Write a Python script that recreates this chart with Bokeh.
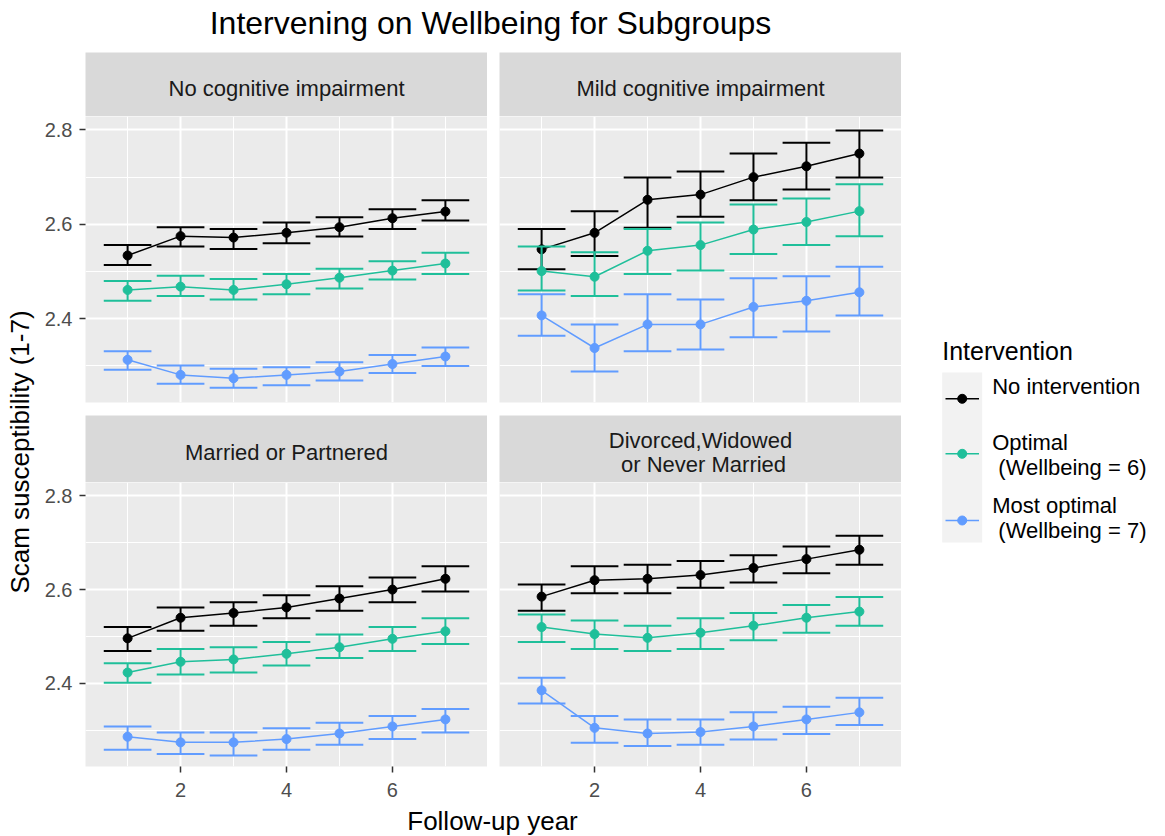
from math import pi
from bokeh.plotting import figure
from bokeh.layouts import row, column
from bokeh.models import Range1d, FixedTicker, ColumnDataSource
from bokeh.core.properties import value
from bokeh.embed import file_html
from bokeh.resources import INLINE

FONT = "Liberation Sans"
NBSP = "\u00a0"

# ---------------- texts / categories ----------------
title_text = "Intervening on Wellbeing for Subgroups"
x_title = "Follow-up year"
y_title = "Scam susceptibility (1-7)"
legend_title = "Intervention"
panel_labels = ["No cognitive impairment", "Mild cognitive impairment",
                "Married or Partnered", "Divorced,Widowed\n" + NBSP + "or Never Married"]
series_names = ["No intervention", "Optimal\n" + NBSP + "(Wellbeing = 6)",
                "Most optimal\n" + NBSP + "(Wellbeing = 7)"]
series_colors = ["#000000", "#1FBF9A", "#619CFF"]

years = [1, 2, 3, 4, 5, 6, 7]
x_ticks = [2, 4, 6]
x_minor = [1, 3, 5, 7]
y_ticks = [2.4, 2.6, 2.8]
y_minor = [2.3, 2.5, 2.7]

# ---------------- data (estimate, lower, upper) ----------------
# No cognitive impairment
nci_none_est = [2.534, 2.575, 2.572, 2.582, 2.594, 2.613, 2.627]
nci_none_lo = [2.514, 2.553, 2.548, 2.560, 2.574, 2.590, 2.608]
nci_none_hi = [2.556, 2.594, 2.590, 2.604, 2.615, 2.632, 2.651]
nci_opt_est = [2.461, 2.468, 2.461, 2.473, 2.487, 2.502, 2.517]
nci_opt_lo = [2.438, 2.448, 2.441, 2.452, 2.464, 2.483, 2.495]
nci_opt_hi = [2.480, 2.491, 2.484, 2.495, 2.506, 2.522, 2.540]
nci_most_est = [2.313, 2.281, 2.274, 2.281, 2.288, 2.304, 2.320]
nci_most_lo = [2.292, 2.262, 2.254, 2.259, 2.269, 2.285, 2.300]
nci_most_hi = [2.331, 2.301, 2.294, 2.297, 2.308, 2.323, 2.339]

# Mild cognitive impairment
mci_none_est = [2.547, 2.582, 2.652, 2.663, 2.700, 2.723, 2.750]
mci_none_lo = [2.505, 2.533, 2.593, 2.616, 2.651, 2.674, 2.699]
mci_none_hi = [2.590, 2.628, 2.699, 2.712, 2.750, 2.773, 2.799]
mci_opt_est = [2.501, 2.489, 2.544, 2.556, 2.589, 2.605, 2.628]
mci_opt_lo = [2.460, 2.448, 2.495, 2.502, 2.537, 2.556, 2.575]
mci_opt_hi = [2.553, 2.541, 2.590, 2.604, 2.642, 2.655, 2.685]
mci_most_est = [2.407, 2.338, 2.388, 2.388, 2.425, 2.438, 2.456]
mci_most_lo = [2.364, 2.288, 2.331, 2.335, 2.361, 2.373, 2.407]
mci_most_hi = [2.452, 2.388, 2.452, 2.441, 2.486, 2.490, 2.510]

# Married or Partnered
mar_none_est = [2.496, 2.540, 2.550, 2.562, 2.581, 2.600, 2.623]
mar_none_lo = [2.469, 2.512, 2.523, 2.539, 2.555, 2.573, 2.596]
mar_none_hi = [2.520, 2.562, 2.573, 2.588, 2.607, 2.626, 2.650]
mar_opt_est = [2.423, 2.446, 2.451, 2.463, 2.477, 2.495, 2.511]
mar_opt_lo = [2.401, 2.419, 2.423, 2.438, 2.454, 2.469, 2.484]
mar_opt_hi = [2.443, 2.473, 2.477, 2.488, 2.504, 2.520, 2.539]
mar_most_est = [2.286, 2.274, 2.274, 2.281, 2.293, 2.308, 2.323]
mar_most_lo = [2.258, 2.249, 2.246, 2.258, 2.269, 2.281, 2.295]
mar_most_hi = [2.308, 2.295, 2.295, 2.304, 2.316, 2.330, 2.345]

# Divorced, Widowed or Never Married
div_none_est = [2.585, 2.620, 2.623, 2.631, 2.646, 2.665, 2.685]
div_none_lo = [2.555, 2.592, 2.592, 2.604, 2.615, 2.635, 2.653]
div_none_hi = [2.611, 2.650, 2.653, 2.661, 2.673, 2.692, 2.715]
div_opt_est = [2.520, 2.505, 2.497, 2.508, 2.523, 2.540, 2.553]
div_opt_lo = [2.488, 2.473, 2.469, 2.473, 2.492, 2.508, 2.523]
div_opt_hi = [2.547, 2.534, 2.523, 2.539, 2.550, 2.567, 2.584]
div_most_est = [2.385, 2.305, 2.293, 2.296, 2.308, 2.323, 2.338]
div_most_lo = [2.357, 2.273, 2.266, 2.269, 2.280, 2.292, 2.311]
div_most_hi = [2.412, 2.330, 2.323, 2.323, 2.338, 2.350, 2.369]

panel_series = [
    [(nci_none_est, nci_none_lo, nci_none_hi), (nci_opt_est, nci_opt_lo, nci_opt_hi), (nci_most_est, nci_most_lo, nci_most_hi)],
    [(mci_none_est, mci_none_lo, mci_none_hi), (mci_opt_est, mci_opt_lo, mci_opt_hi), (mci_most_est, mci_most_lo, mci_most_hi)],
    [(mar_none_est, mar_none_lo, mar_none_hi), (mar_opt_est, mar_opt_lo, mar_opt_hi), (mar_most_est, mar_most_lo, mar_most_hi)],
    [(div_none_est, div_none_lo, div_none_hi), (div_opt_est, div_opt_lo, div_opt_hi), (div_most_est, div_most_lo, div_most_hi)],
]

# ---------------- styling constants ----------------
CAP_HALF = 0.45          # errorbar width 0.9
X_RANGE = (0.205, 7.795)
Y_RANGE = (2.2225, 2.8285)
FRAME_W = 402
GAP = 12
LEFT_BORDER = 47
YLAB_W = 38
TOTAL_W = 1160
BOTTOM_BORDER = 40
MID_H = 64 + 286 + 13 + 67 + 284 + BOTTOM_BORDER


def bare_figure(w, h):
    f = figure(frame_width=w, frame_height=h, x_range=Range1d(0, w), y_range=Range1d(h, 0),
               x_axis_location=None, y_axis_location=None, min_border=0,
               output_backend="svg", toolbar_location=None, outline_line_color=None,
               background_fill_color="white", border_fill_color="white")
    f.grid.visible = False
    return f


def style_axis(ax, standoff):
    ax.axis_line_color = None
    ax.major_tick_line_color = "#333333"
    ax.major_tick_line_width = 1.5
    ax.major_tick_out = 6
    ax.major_tick_in = 0
    ax.minor_tick_out = 0
    ax.minor_tick_in = 0
    ax.minor_tick_line_color = None
    ax.major_label_text_font = FONT
    ax.major_label_text_font_size = "20px"
    ax.major_label_text_color = "#4D4D4D"
    ax.major_label_standoff = standoff


def make_strip(label, left, h, ty):
    s = figure(frame_width=FRAME_W, frame_height=h, x_range=Range1d(0, 1), y_range=Range1d(h, 0),
               x_axis_location=None, y_axis_location=None, min_border=0,
               min_border_left=LEFT_BORDER if left else GAP,
               output_backend="svg", toolbar_location=None, outline_line_color=None,
               background_fill_color="#D9D9D9", border_fill_color="white")
    s.grid.visible = False
    s.text(x=[0.5], y=[ty], text=[label], text_align="center", text_baseline="middle",
           text_font=value(FONT), text_font_size="22px", text_color="#1A1A1A",
           text_line_height=0.95)
    return s


def make_panel(series, left, bottom):
    fh = 284 if bottom else 286
    p = figure(frame_width=FRAME_W, frame_height=fh,
               x_range=Range1d(*X_RANGE), y_range=Range1d(*Y_RANGE),
               x_axis_location="below" if bottom else None,
               y_axis_location="left" if left else None,
               min_border=0, min_border_left=LEFT_BORDER if left else GAP,
               min_border_bottom=BOTTOM_BORDER if bottom else 13,
               output_backend="svg", toolbar_location=None, outline_line_color=None,
               background_fill_color="#EBEBEB", border_fill_color="white")
    xg, yg = p.xgrid[0], p.ygrid[0]
    xg.ticker = FixedTicker(ticks=x_ticks, minor_ticks=x_minor)
    yg.ticker = FixedTicker(ticks=y_ticks, minor_ticks=y_minor)
    for g in (xg, yg):
        g.grid_line_color = "white"
        g.grid_line_width = 2
        g.minor_grid_line_color = "white"
        g.minor_grid_line_width = 1
    if left:
        ax = p.yaxis[0]
        ax.ticker = FixedTicker(ticks=y_ticks)
        style_axis(ax, 7)
    if bottom:
        ax = p.xaxis[0]
        ax.ticker = FixedTicker(ticks=x_ticks)
        style_axis(ax, 10)
    for (est, lo, hi), color in zip(series, series_colors):
        src = ColumnDataSource(dict(x=years, est=est, lo=lo, hi=hi,
                                    xl=[v - CAP_HALF for v in years],
                                    xr=[v + CAP_HALF for v in years]))
        p.segment(x0="x", y0="lo", x1="x", y1="hi", source=src, line_color=color, line_width=2)
        p.segment(x0="xl", y0="lo", x1="xr", y1="lo", source=src, line_color=color, line_width=2)
        p.segment(x0="xl", y0="hi", x1="xr", y1="hi", source=src, line_color=color, line_width=2)
        p.line(x="x", y="est", source=src, line_color=color, line_width=1.5)
        p.scatter(x="x", y="est", source=src, size=9, fill_color=color, line_color=color)
    return p


strips = [make_strip(panel_labels[0], True, 64, 36), make_strip(panel_labels[1], False, 64, 36),
          make_strip(panel_labels[2], True, 67, 37), make_strip(panel_labels[3], False, 67, 37)]
panels = [make_panel(panel_series[0], True, False), make_panel(panel_series[1], False, False),
          make_panel(panel_series[2], True, True), make_panel(panel_series[3], False, True)]

grid = column(row(strips[0], strips[1]), row(panels[0], panels[1]),
              row(strips[2], strips[3]), row(panels[2], panels[3]))

# title
title_fig = bare_figure(TOTAL_W, 52)
title_fig.text(x=[490], y=[22.5], text=[title_text], text_align="center", text_baseline="middle",
               text_font=value(FONT), text_font_size="32px", text_color="#000000",
               text_line_height=1.0)

# y-axis title
ylab_fig = bare_figure(YLAB_W, MID_H)
ylab_fig.text(x=[19], y=[399.5], text=[y_title], angle=pi / 2, text_align="center",
              text_baseline="middle", text_font=value(FONT), text_font_size="26px",
              text_color="#000000", text_line_height=1.0)

# x-axis title
xlab_fig = bare_figure(TOTAL_W, 29)
xlab_fig.text(x=[492], y=[14], text=[x_title], text_align="center", text_baseline="middle",
              text_font=value(FONT), text_font_size="26px", text_color="#000000",
              text_line_height=1.0)

# legend (key column + labels)
LEG_W = TOTAL_W - YLAB_W - (LEFT_BORDER + FRAME_W) - (GAP + FRAME_W)
leg = bare_figure(LEG_W, MID_H)
leg.text(x=[40.7], y=[298], text=[legend_title], text_align="left", text_baseline="middle",
         text_font=value(FONT), text_font_size="25px", text_color="#000000")
leg.quad(left=[40.7], right=[80.7], top=[320], bottom=[490], fill_color="#F2F2F2", line_color=None)
key_y = [346.3, 401.3, 468.0]
label_y = [334.0, 402.5, 465.5]
leg.segment(x0=[44] * 3, x1=[77.5] * 3, y0=key_y, y1=key_y, line_color=series_colors, line_width=1.5)
leg.scatter(x=[60.7] * 3, y=key_y, size=9, fill_color=series_colors, line_color=series_colors)
leg.text(x=[90.7] * 3, y=label_y, text=series_names, text_align="left", text_baseline="middle",
         text_font=value(FONT), text_font_size="22px", text_color="#000000", text_line_height=1.0)

layout = column(title_fig, row(ylab_fig, grid, leg), xlab_fig)

open("out.html", "w").write(file_html(layout, INLINE))
